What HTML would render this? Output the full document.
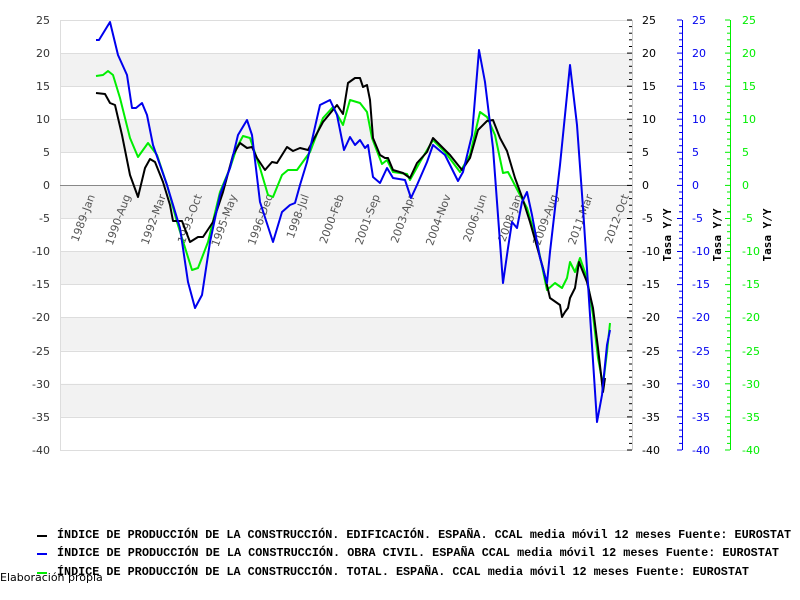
<!DOCTYPE html>
<html><head><meta charset="utf-8"><style>
body{margin:0;background:#fff;}
svg{display:block;}
</style></head><body>
<svg width="800" height="600" xmlns="http://www.w3.org/2000/svg" font-family="DejaVu Sans, Liberation Sans, sans-serif">
<g fill="#f2f2f2">
<rect x="60" y="53" width="572" height="33"/>
<rect x="60" y="119.5" width="572" height="33"/>
<rect x="60" y="185.4" width="572" height="33"/>
<rect x="60" y="251.5" width="572" height="33"/>
<rect x="60" y="317.7" width="572" height="33"/>
<rect x="60" y="383.8" width="572" height="33"/>
</g>
<g stroke="#dddddd" stroke-width="1">
<line x1="60" x2="632" y1="20.5" y2="20.5"/><line x1="60" x2="632" y1="53.5" y2="53.5"/><line x1="60" x2="632" y1="86.5" y2="86.5"/><line x1="60" x2="632" y1="119.5" y2="119.5"/><line x1="60" x2="632" y1="152.5" y2="152.5"/><line x1="60" x2="632" y1="218.5" y2="218.5"/><line x1="60" x2="632" y1="251.5" y2="251.5"/><line x1="60" x2="632" y1="284.5" y2="284.5"/><line x1="60" x2="632" y1="317.5" y2="317.5"/><line x1="60" x2="632" y1="351.5" y2="351.5"/><line x1="60" x2="632" y1="384.5" y2="384.5"/><line x1="60" x2="632" y1="417.5" y2="417.5"/><line x1="60" x2="632" y1="450.5" y2="450.5"/>
<line x1="60.5" x2="60.5" y1="20" y2="450"/>
</g>
<line x1="60" x2="632" y1="185.5" y2="185.5" stroke="#888" stroke-width="1"/>
<g font-size="11" fill="#333" text-anchor="end">
<text x="50" y="24">25</text><text x="50" y="57">20</text><text x="50" y="90">15</text><text x="50" y="123">10</text><text x="50" y="156">5</text><text x="50" y="189">0</text><text x="50" y="222">-5</text><text x="50" y="255">-10</text><text x="50" y="288">-15</text><text x="50" y="321">-20</text><text x="50" y="355">-25</text><text x="50" y="388">-30</text><text x="50" y="421">-35</text><text x="50" y="454">-40</text>
</g>
<g font-size="11" fill="#555" text-anchor="end">
<text transform="translate(95,196) rotate(-70)">1989-Jan</text>
<text transform="translate(130.6,196) rotate(-70)">1990-Aug</text>
<text transform="translate(166,196) rotate(-70)">1992-Mar</text>
<text transform="translate(202,196) rotate(-70)">1993-Oct</text>
<text transform="translate(237,196) rotate(-70)">1995-May</text>
<text transform="translate(273,196) rotate(-70)">1996-Dec</text>
<text transform="translate(309,196) rotate(-70)">1998-Jul</text>
<text transform="translate(344,196) rotate(-70)">2000-Feb</text>
<text transform="translate(380,196) rotate(-70)">2001-Sep</text>
<text transform="translate(415,196) rotate(-70)">2003-Apr</text>
<text transform="translate(451,196) rotate(-70)">2004-Nov</text>
<text transform="translate(487,196) rotate(-70)">2006-Jun</text>
<text transform="translate(522,196) rotate(-70)">2008-Jan</text>
<text transform="translate(558,196) rotate(-70)">2009-Aug</text>
<text transform="translate(593,196) rotate(-70)">2011-Mar</text>
<text transform="translate(629,196) rotate(-70)">2012-Oct</text>
</g>
<g fill="none" stroke-width="2" stroke-linejoin="round">
<polyline stroke="#00ee00" points="96,76 103,75 108,71 113,75 120,98 130,138 138,157 148,143 157,155 167,185 177,222 192,270 198,268 208,242 220,192 230,168 237,147 243,136 250,138 260,168 268,195 273,197 282,175 288,170 297,170 310,152 323,118 333,107 343,125 350,100 360,103 367,112 372,138 382,164 387,160 393,172 407,174 410,180 420,162 433,140 445,152 460,172 470,155 480,112 487,117 495,135 503,173 508,172 520,195 527,208 537,242 547,290 555,283 562,288 567,278 570,262 575,272 580,258 587,278 593,315 598,358 603,385 607,352 610,323"/>
<polyline stroke="#000" points="96,93 105,94 110,103 115,105 122,135 130,175 138,197 145,168 150,159 155,162 163,182 170,205 173,221 182,221 190,242 198,237 203,237 213,222 223,192 233,155 240,143 247,148 252,147 257,158 265,170 272,162 277,163 287,147 293,151 300,148 308,150 323,122 337,105 343,114 348,83 355,78 360,78 363,87 367,85 370,100 373,138 380,155 385,158 388,158 393,170 403,173 410,178 417,163 427,152 433,138 443,148 450,155 462,170 470,158 478,130 487,121 493,120 500,138 507,151 515,178 522,197 530,222 543,268 550,298 560,305 562,317 565,312 568,308 570,298 575,288 579,262 587,282 593,308 598,348 603,392 605,378"/>
<polyline stroke="#0000ee" points="96,40 99,40 110,22 118,55 127,75 132,108 136,108 142,103 147,115 153,145 167,185 180,228 188,282 195,308 202,295 210,242 220,195 230,168 238,135 247,120 252,135 260,202 273,242 282,212 290,205 295,203 300,185 307,162 320,105 330,100 337,115 344,150 350,137 355,145 360,140 365,148 368,145 373,177 380,183 387,168 393,178 405,180 411,198 417,185 427,162 433,145 445,155 458,181 463,172 472,135 479,50 485,82 493,148 503,283 508,248 512,222 517,228 522,202 527,192 532,215 540,258 547,283 550,252 560,165 565,115 570,65 577,125 583,208 590,315 597,422 602,395 607,345 610,330"/>
</g>
<g stroke-width="1">
<line x1="632.5" x2="632.5" y1="20" y2="450" stroke="#ccc"/>
<line x1="682.5" x2="682.5" y1="20" y2="450" stroke="#0000ee"/>
<line x1="730.5" x2="730.5" y1="20" y2="450" stroke="#00ee00"/>
</g>
<g id="ticks"></g>
<g font-size="11" fill="#000"><text x="642" y="24">25</text><text x="642" y="57">20</text><text x="642" y="90">15</text><text x="642" y="123">10</text><text x="642" y="156">5</text><text x="642" y="189">0</text><text x="642" y="222">-5</text><text x="642" y="255">-10</text><text x="642" y="288">-15</text><text x="642" y="321">-20</text><text x="642" y="355">-25</text><text x="642" y="388">-30</text><text x="642" y="421">-35</text><text x="642" y="454">-40</text></g>
<g font-size="11" fill="#0000ee"><text x="692" y="24">25</text><text x="692" y="57">20</text><text x="692" y="90">15</text><text x="692" y="123">10</text><text x="692" y="156">5</text><text x="692" y="189">0</text><text x="692" y="222">-5</text><text x="692" y="255">-10</text><text x="692" y="288">-15</text><text x="692" y="321">-20</text><text x="692" y="355">-25</text><text x="692" y="388">-30</text><text x="692" y="421">-35</text><text x="692" y="454">-40</text></g>
<g font-size="11" fill="#00ee00"><text x="742" y="24">25</text><text x="742" y="57">20</text><text x="742" y="90">15</text><text x="742" y="123">10</text><text x="742" y="156">5</text><text x="742" y="189">0</text><text x="742" y="222">-5</text><text x="742" y="255">-10</text><text x="742" y="288">-15</text><text x="742" y="321">-20</text><text x="742" y="355">-25</text><text x="742" y="388">-30</text><text x="742" y="421">-35</text><text x="742" y="454">-40</text></g>
<g font-size="11" font-family="DejaVu Sans Mono, Liberation Mono, monospace" font-weight="bold" fill="#000" text-anchor="middle">
<text transform="translate(671,235) rotate(-90)">Tasa Y/Y</text>
<text transform="translate(721,235) rotate(-90)">Tasa Y/Y</text>
<text transform="translate(771,235) rotate(-90)">Tasa Y/Y</text>
</g>
<g font-family="Liberation Mono, monospace" font-weight="bold" font-size="11.5" fill="#000" style="white-space:pre" xml:space="preserve">
<rect x="37" y="535" width="10" height="2" fill="#000"/>
<text x="57" y="538" textLength="734" lengthAdjust="spacingAndGlyphs">ÍNDICE DE PRODUCCIÓN DE LA CONSTRUCCIÓN. EDIFICACIÓN. ESPAÑA. CCAL media móvil 12 meses  Fuente: EUROSTAT</text>
<rect x="37" y="553" width="10" height="2" fill="#0000ee"/>
<text x="57" y="556" textLength="722" lengthAdjust="spacingAndGlyphs">ÍNDICE DE PRODUCCIÓN DE LA CONSTRUCCIÓN. OBRA CIVIL. ESPAÑA CCAL media móvil 12 meses  Fuente: EUROSTAT</text>
<rect x="37" y="572" width="10" height="2" fill="#00ee00"/>
<text x="57" y="575" textLength="692" lengthAdjust="spacingAndGlyphs">ÍNDICE DE PRODUCCIÓN DE LA CONSTRUCCIÓN. TOTAL. ESPAÑA. CCAL media móvil 12 meses  Fuente: EUROSTAT</text>
</g>
<text x="0" y="581" font-size="11" fill="#000">Elaboración propia</text>
</svg>
<script>
var g=document.getElementById('ticks'),s='';
for(var v=-40;v<=25;v++){var y=(20+(25-v)*6.615).toFixed(1);var L=(v%5==0)?5:3;
s+='<line x1="'+(632-L)+'" x2="632" y1="'+y+'" y2="'+y+'" stroke="#000"/>';
s+='<line x1="'+(682-L)+'" x2="682" y1="'+y+'" y2="'+y+'" stroke="#0000ee"/>';
s+='<line x1="'+(730-L)+'" x2="730" y1="'+y+'" y2="'+y+'" stroke="#00ee00"/>';}
g.innerHTML=s;
</script>
</body></html>
